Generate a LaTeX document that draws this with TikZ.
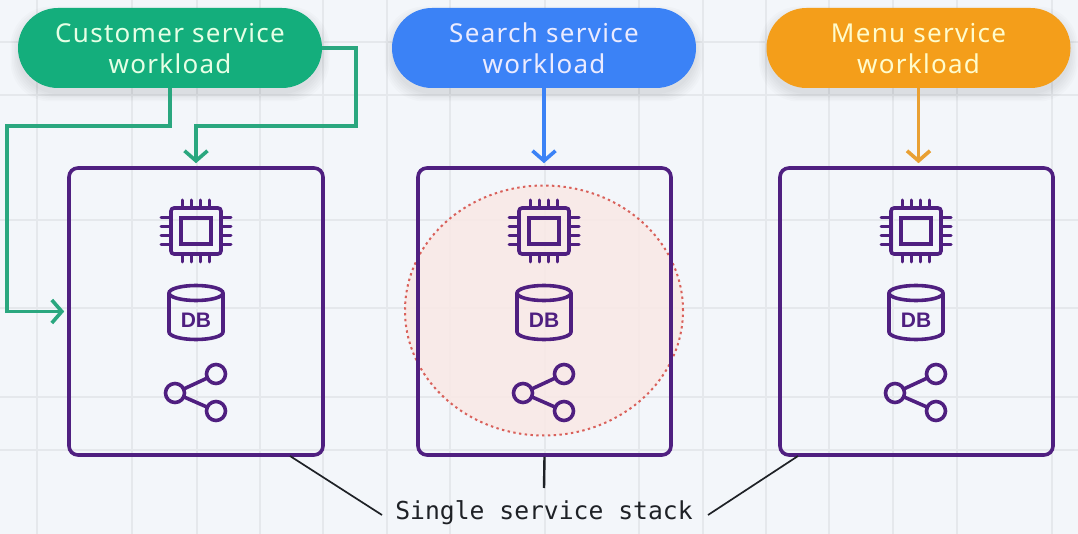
\documentclass[tikz,border=0pt]{standalone}
\usepackage{fontspec}
\setmainfont{Noto Sans}
\setmonofont{DejaVu Sans Mono}
\newfontfamily\dbfont{Liberation Sans}
\newfontfamily\pillfont[LetterSpace=5]{Noto Sans}
\usetikzlibrary{arrows.meta,calc}
\definecolor{bgc}{HTML}{F3F6FA}
\definecolor{gridc}{HTML}{E5E8EC}
\definecolor{greenc}{HTML}{14AE7C}
\definecolor{greenl}{HTML}{2AA77F}
\definecolor{bluec}{HTML}{3B82F6}
\definecolor{orangec}{HTML}{F49E1A}
\definecolor{orangel}{HTML}{E9A033}
\definecolor{purplec}{HTML}{4F1F80}
\definecolor{inkc}{HTML}{1E2126}
\definecolor{pinkc}{HTML}{F9E9E6}
\definecolor{redc}{HTML}{D9605A}
\newcommand{\pilltop}{\rule{0pt}{29.7pt}}
\tikzset{
  pill/.style={rectangle,rounded corners=40pt,minimum width=304pt,minimum height=80pt,inner sep=0pt,align=center,font=\pillfont\fontsize{26}{31}\selectfont},
  stack/.style={draw=purplec,line width=3.6pt,rounded corners=9pt,inner sep=0pt},
  link/.style={line width=3.6pt,-{Straight Barb[length=10pt,width=23pt,line width=3.6pt]},shorten >=3pt},
  leader/.style={draw=inkc,line width=1.7pt},
  icon/.style={draw=purplec,line width=3.6pt},
  pin/.style={draw=purplec,line width=3pt,line cap=round},
  chipicon/.pic={
    \draw[icon,rounded corners=3pt] (-25,-23) rectangle (25,23);
    \draw[icon] (-15,-13) rectangle (15,13);
    \foreach \d in {-13.5,-4.5,4.5,13.5}{
      \draw[pin] (\d,-23) -- (\d,-31);
      \draw[pin] (\d,23) -- (\d,31);
      \draw[pin] (-25,\d) -- (-35,\d);
      \draw[pin] (25,\d) -- (35,\d);
    }
  },
  dbicon/.pic={
    \draw[icon] (-27,-19) -- (-27,20) arc[start angle=180,end angle=360,x radius=27pt,y radius=7.5pt] -- (27,-19);
    \draw[icon] (0,-19) ellipse[x radius=27pt,y radius=7.5pt];
    \node[text=purplec,font=\dbfont\fontsize{21}{21}\selectfont\bfseries] (t) at (0,8) {DB};
  },
  shareicon/.pic={
    \coordinate (l) at (-21,0);
    \coordinate (u) at (20,-19);
    \coordinate (d) at (20,18);
    \draw[icon] (l) circle[radius=9.5pt] (u) circle[radius=9.5pt] (d) circle[radius=9.5pt];
    \draw[icon] ($(l)!9.5pt!(u)$) -- ($(u)!9.5pt!(l)$);
    \draw[icon] ($(l)!9.5pt!(d)$) -- ($(d)!9.5pt!(l)$);
  },
}
\newcommand{\softshadow}[1]{%
  \foreach \g in {0,1.5,...,7.5}{
    \fill[black,opacity=0.016,rounded corners=40pt]
      ($(#1)+(-152-\g,-40+6-\g)$) rectangle ($(#1)+(152+\g,40+6+\g)$);
  }}
\begin{document}
\begin{tikzpicture}[x=1pt,y=-1pt]
\useasboundingbox (0,0) rectangle (1078,534);
\fill[bgc] (0,0) rectangle (1078,534);
\foreach \v in {37,132,197,260,323,387,450,545,639,703,766,829,893,957,1052}
  \draw[gridc,line width=1.2pt] (\v,0) -- (\v,534);
\foreach \h in {42,95,220,308,397,450}
  \draw[gridc,line width=1.2pt] (0,\h) -- (1078,\h);

\coordinate (p1) at (170,48);
\coordinate (p2) at (544,48);
\coordinate (p3) at (918.5,48);
\softshadow{p1}\softshadow{p2}\softshadow{p3}

% highlighted region
\draw[fill=pinkc,fill opacity=0.88,draw=redc,line width=2pt,dash pattern=on 2.4pt off 3.4pt]
  (544,310.5) ellipse[x radius=139pt,y radius=125pt];

% stacks
\node[stack,minimum width=254pt,minimum height=287pt] (box1) at (196,311.5) {};
\node[stack,minimum width=253pt,minimum height=287pt] (box2) at (544.5,311.5) {};
\node[stack,minimum width=273pt,minimum height=287pt] (box3) at (916.5,311.5) {};

% icons
\pic (chipA) at (196,231) {chipicon};
\pic (chipB) at (544,231) {chipicon};
\pic (chipC) at (916,231) {chipicon};
\pic (dbA) at (196,312) {dbicon};
\pic (dbB) at (544,312) {dbicon};
\pic (dbC) at (916,312) {dbicon};
\pic (shA) at (196,393) {shareicon};
\pic (shB) at (544,393) {shareicon};
\pic (shC) at (916,393) {shareicon};

% workloads
\node[pill,fill=greenc,text=green!10!white] (cust) at (p1) {\pilltop\strut Customer service\\\strut workload};
\node[pill,fill=bluec,text=blue!8!white] (search) at (p2) {\pilltop\strut Search service\\\strut workload};
\node[pill,fill=orangec,text=yellow!20!white] (menu) at (p3) {\pilltop\strut Menu service\\\strut workload};

% connectors
\coordinate (lefttop) at (7,126);
\coordinate (leftbot) at (7,311.5);
\coordinate (righttop) at (356,48);
\coordinate (rightbot) at (356,126);
\draw[link,greenl] (cust.south) |- (lefttop) -- (leftbot) -- (box1.west);
\draw[link,greenl] (cust.east) -- (righttop) -- (rightbot) -| (box1.north);
\draw[link,bluec] (search.south) -- (search.south |- box2.north);
\draw[link,orangel] (menu.south) -- (menu.south |- box3.north);

% caption
\node[font=\fontsize{24.7}{28}\ttfamily,text=inkc,inner sep=0pt] (cap) at (544,512.5) {Single service stack};
\coordinate (a1) at (290,456);
\coordinate (e1) at (382,515);
\coordinate (e2) at (544,488);
\coordinate (a3) at (798,456);
\coordinate (e3) at (708,515);
\draw[leader] (a1) -- (e1);
\draw[leader,line width=2.4pt] (box2.south) -- (e2);
\draw[leader] (a3) -- (e3);
\end{tikzpicture}
\end{document}
